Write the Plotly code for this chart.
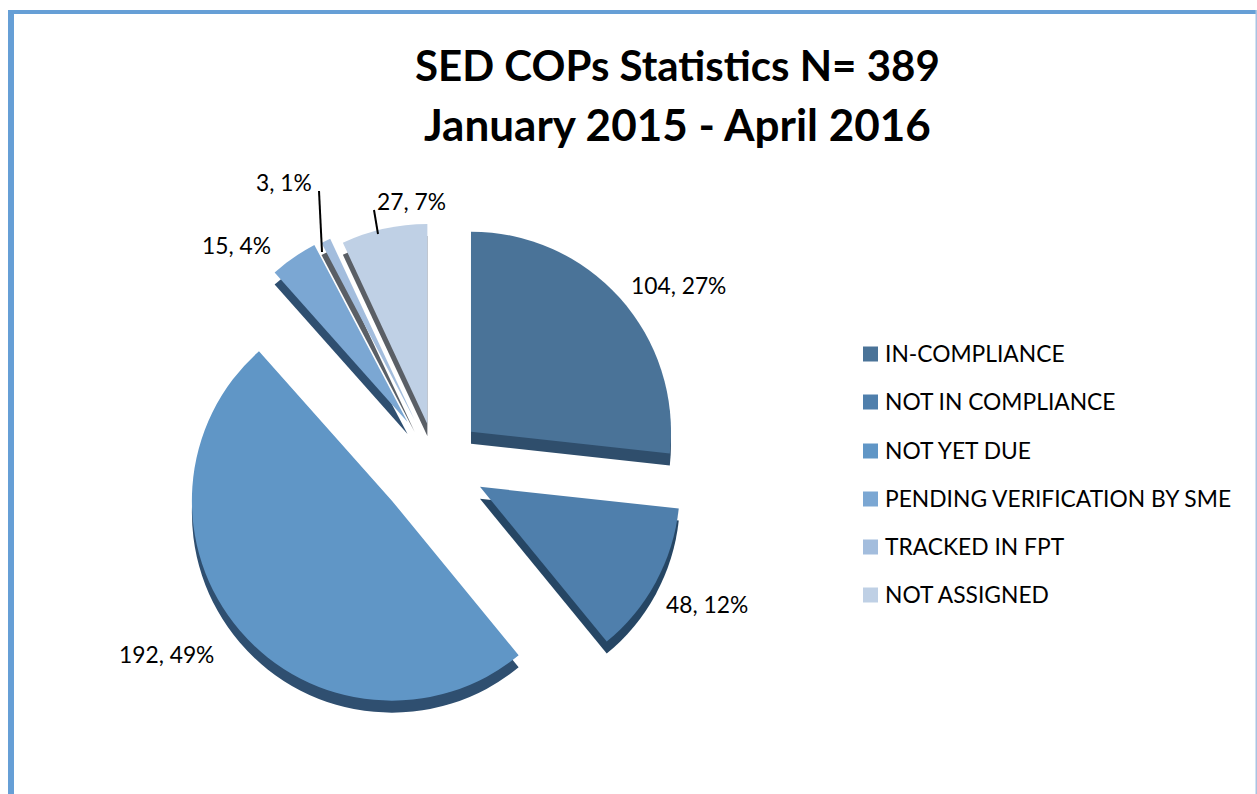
import plotly.graph_objects as go

categories = ["IN-COMPLIANCE", "NOT IN COMPLIANCE", "NOT YET DUE",
              "PENDING VERIFICATION BY SME", "TRACKED IN FPT", "NOT ASSIGNED"]
values = [104, 48, 192, 15, 3, 27]
percents = [27, 12, 49, 4, 1, 7]
colors = ["#4A7398", "#4F7FAC", "#6096C6", "#7BA7D3", "#A3BDDD", "#BFD0E5"]
side_colors = ["#2F4E6C", "#264664", "#2F4F70", "#2F4F70", "#5A5F66", "#5A5F66"]
pulls = [0.235, 0.25, 0.29, 0.25, 0.24, 0.2]
title_lines = ["SED COPs Statistics N= 389", "January 2015 - April 2016"]
title_sizes = [42, 44]

W, H = 1257, 794
FONT = "Lato, Carlito, 'Open Sans', sans-serif"

# pie placement in pixels
cx, cy, half = 436, 463, 258
depth = 12


def dom(c_x, c_y):
    return dict(x=[(c_x - half) / W, (c_x + half) / W],
                y=[1 - (c_y + half) / H, 1 - (c_y - half) / H])


common = dict(labels=categories, values=values, pull=pulls, sort=False, direction="clockwise",
              rotation=0, textinfo="none", showlegend=False, hoverinfo="label+value+percent")

fig = go.Figure()
fig.add_trace(go.Pie(domain=dom(cx, cy + depth), marker=dict(colors=side_colors, line=dict(width=0)), **common))
fig.add_trace(go.Pie(domain=dom(cx, cy), marker=dict(colors=colors, line=dict(width=0)), **common))

annotations = [dict(text="<b>" + t + "</b>", x=677 / W, y=1 - yy / H, xref="paper", yref="paper",
                    xanchor="center", yanchor="middle", showarrow=False,
                    font=dict(family=FONT, size=s, color="#000000"))
               for t, yy, s in zip(title_lines, [65, 124], title_sizes)]

label_pos = [(678, 285), (707, 604), (166, 654), (236, 245), (284, 182), (412, 201)]
for v, p, (lx, ly) in zip(values, percents, label_pos):
    annotations.append(dict(text=f"{v}, {p}%", x=lx / W, y=1 - ly / H, xref="paper", yref="paper",
                            xanchor="center", yanchor="middle", showarrow=False,
                            font=dict(family=FONT, size=22.8, color="#000000")))

shapes = [
    dict(type="rect", xref="paper", yref="paper", x0=8 / W, x1=14 / W, y0=0, y1=1 - 10 / H,
         fillcolor="#669FD6", line=dict(width=0)),
    dict(type="rect", xref="paper", yref="paper", x0=8 / W, x1=1, y0=1 - 14 / H, y1=1 - 10 / H,
         fillcolor="#669FD6", line=dict(width=0)),
    dict(type="rect", xref="paper", yref="paper", x0=1255.5 / W, x1=1, y0=0, y1=1 - 10 / H,
         fillcolor="#A9C3E2", line=dict(width=0)),
    # leader lines
    dict(type="line", xref="paper", yref="paper", x0=319 / W, x1=322 / W, y0=1 - 191 / H, y1=1 - 252 / H,
         line=dict(color="#000000", width=2)),
    dict(type="line", xref="paper", yref="paper", x0=374 / W, x1=378 / W, y0=1 - 210 / H, y1=1 - 234 / H,
         line=dict(color="#000000", width=2)),
]

legend_y = [354, 402, 451, 499, 547, 595]
for name, col, ly in zip(categories, colors, legend_y):
    shapes.append(dict(type="rect", xref="paper", yref="paper", x0=863 / W, x1=878 / W,
                       y0=1 - (ly + 7.5) / H, y1=1 - (ly - 7.5) / H, fillcolor=col, line=dict(width=0)))
    annotations.append(dict(text=name, x=883 / W, y=1 - (ly - 1) / H, xref="paper", yref="paper",
                            xanchor="left", yanchor="middle", showarrow=False,
                            font=dict(family=FONT, size=22.8, color="#000000")))

fig.update_layout(width=W, height=H, autosize=False, margin=dict(l=0, r=0, t=0, b=0),
                  paper_bgcolor="#FFFFFF", annotations=annotations, shapes=shapes)
fig.write_html("out.html", config=dict(displayModeBar=False),
               post_script="document.body.style.margin='0';document.body.style.overflow='hidden';")
